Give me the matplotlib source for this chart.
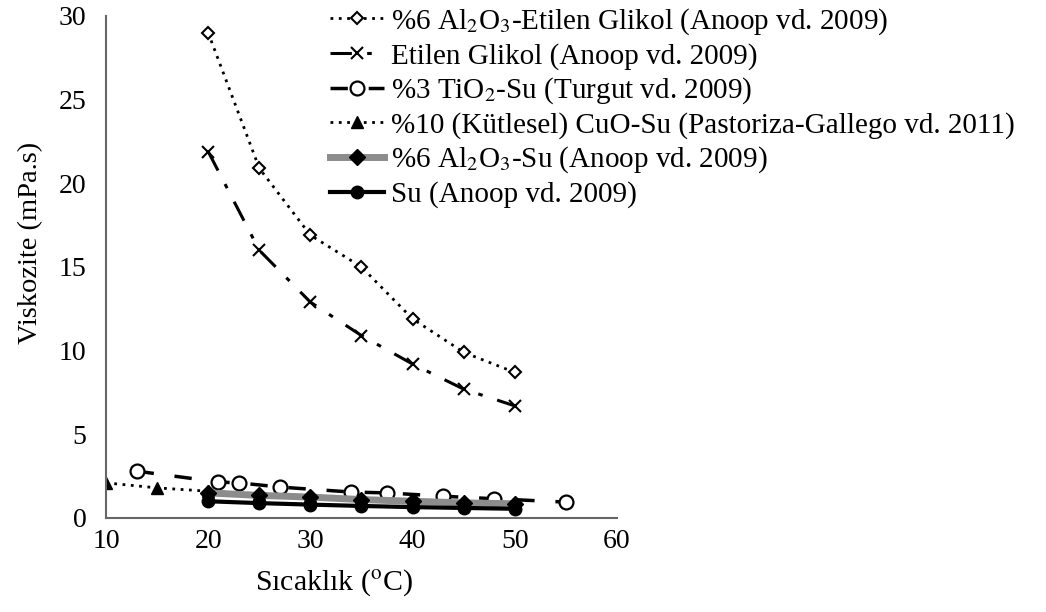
import matplotlib.pyplot as plt

plt.rcParams['font.family'] = ['Liberation Serif', 'DejaVu Serif']
plt.rcParams['mathtext.fontset'] = 'stix'

# series data
x_anoop = [20, 25, 30, 35, 40, 45, 50]
al2o3_eg = [29.0, 20.9, 16.9, 15.0, 11.9, 9.9, 8.7]
eg = [21.9, 16.0, 12.9, 10.9, 9.2, 7.7, 6.7]

x_tio2 = [13, 21, 23, 27, 34, 37.5, 43, 48, 55]
tio2_su = [2.8, 2.15, 2.1, 1.85, 1.55, 1.5, 1.3, 1.15, 0.95]

x_cuo = [10, 15, 20, 25, 30, 35, 40, 45, 50]
cuo_su = [2.1, 1.8, 1.6, 1.45, 1.3, 1.15, 1.05, 0.95, 0.9]

al2o3_su = [1.5, 1.35, 1.25, 1.1, 1.0, 0.9, 0.85]
su = [1.0, 0.89, 0.8, 0.72, 0.65, 0.6, 0.55]

labels = [
    r'%6 Al$_2$O$_3$-Etilen Glikol (Anoop vd. 2009)',
    'Etilen Glikol (Anoop vd. 2009)',
    r'%3 TiO$_2$-Su (Turgut vd. 2009)',
    '%10 (Kütlesel) CuO-Su (Pastoriza-Gallego vd. 2011)',
    r'%6 Al$_2$O$_3$-Su (Anoop vd. 2009)',
    'Su (Anoop vd. 2009)',
]

fig = plt.figure(figsize=(10.46, 6.12), dpi=100)
ax = fig.add_axes([0.1013, 0.1536, 0.4886, 0.8203])

ax.plot(x_anoop, al2o3_eg, color='black', linestyle=(0, (1, 2)), lw=2,
        marker='D', ms=6, mfc='white', mec='black', mew=1.5, label=labels[0])
ax.plot(x_anoop, eg, color='black', linestyle=(0, (7, 5, 1.5, 5)), lw=2.2,
        marker='x', ms=9, mew=1.5, mec='black', label=labels[1])
ax.plot(x_tio2, tio2_su, color='black', linestyle=(0, (5, 6)), lw=2.5,
        marker='o', ms=10, mfc='white', mec='black', mew=1.6, label=labels[2])
ax.plot(x_cuo, cuo_su, color='black', linestyle=(0, (1, 2)), lw=2,
        marker='^', ms=9, mfc='black', mec='black', label=labels[3])
ax.plot(x_anoop, al2o3_su, color='#8c8c8c', linestyle='-', lw=5,
        marker='D', ms=8, mfc='black', mec='black', label=labels[4])
ax.plot(x_anoop, su, color='black', linestyle='-', lw=3,
        marker='o', ms=9, mfc='black', mec='black', label=labels[5])

ax.set_xlim(10, 60)
ax.set_ylim(0, 30)
ax.set_xticks([10, 20, 30, 40, 50, 60])
ax.set_yticks([0, 5, 10, 15, 20, 25, 30])
ax.tick_params(length=0, labelsize=20)
ax.tick_params(axis='y', pad=14)
ax.tick_params(axis='x', pad=8)
ax.spines['top'].set_visible(False)
ax.spines['right'].set_visible(False)
for side in ['left', 'bottom']:
    ax.spines[side].set_color('#666666')
    ax.spines[side].set_linewidth(1.5)

ax.set_xlabel(r'Sıcaklık ($^{\rm o}$C)', fontsize=21.5)
ax.set_ylabel('Viskozite (mPa.s)', fontsize=20.5)
ax.xaxis.set_label_coords(0.447, -0.098)
ax.yaxis.set_label_coords(-0.122, 0.548)

fig.legend(loc='upper left', bbox_to_anchor=(0.3155, 0.99), frameon=False,
           fontsize=21, numpoints=1, handlelength=1.85, handletextpad=0.25,
           labelspacing=0.2, borderaxespad=0, borderpad=0)

fig.savefig('out.png', dpi=100)
